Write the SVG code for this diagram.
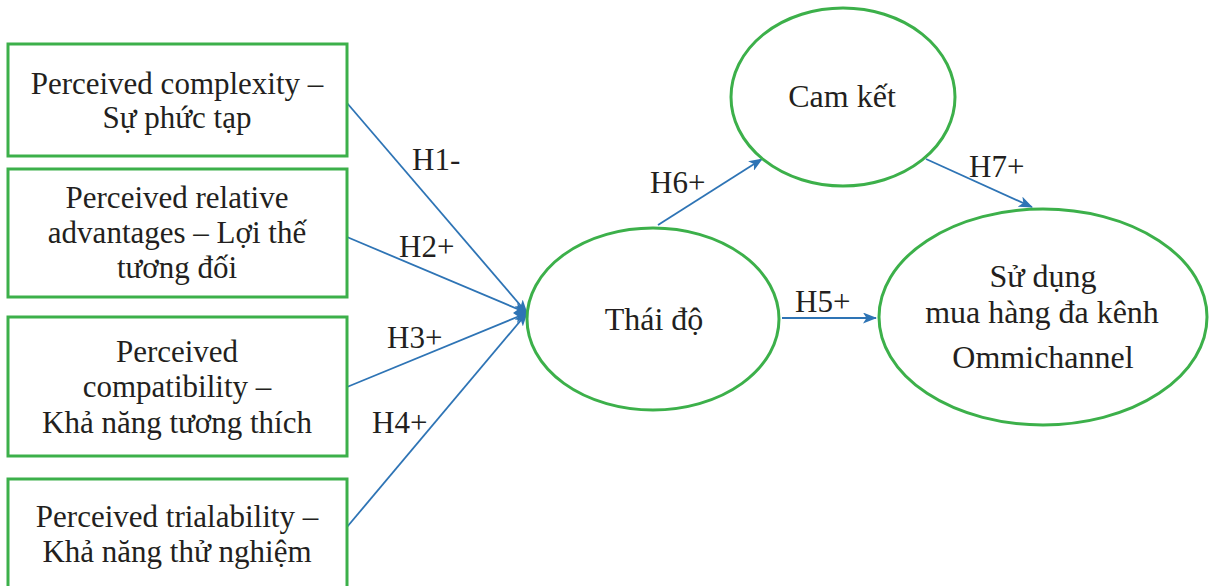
<svg xmlns="http://www.w3.org/2000/svg" width="1209" height="586" viewBox="0 0 1209 586">
<style>
.box{fill:#fff;stroke:#3cb04a;stroke-width:3}
.ell{fill:#fff;stroke:#3cb04a;stroke-width:3}
.t{font-family:"Liberation Serif","Times New Roman",serif;font-size:31px;fill:#231f20;text-anchor:middle}
.e{font-family:"Liberation Serif","Times New Roman",serif;font-size:32px;fill:#231f20;text-anchor:middle}
.lbl{font-family:"Liberation Serif","Times New Roman",serif;font-size:31px;fill:#231f20}
.c{stroke:#2e74b5;stroke-width:1.8;fill:none;marker-end:url(#ah)}
</style>
<defs>
<marker id="ah" viewBox="0 0 14 11" refX="13" refY="5.5" markerWidth="14" markerHeight="11" markerUnits="userSpaceOnUse" orient="auto">
<path d="M0,0 L14,5.5 L0,11 L3.5,5.5 Z" fill="#2e74b5"/>
</marker>
</defs>
<rect width="1209" height="586" fill="#fff"/>
<g id="connectors">
<line class="c" x1="347" y1="103" x2="527" y2="313"/>
<line class="c" x1="347" y1="237" x2="527" y2="313"/>
<line class="c" x1="347" y1="387" x2="527" y2="313"/>
<line class="c" x1="347" y1="527" x2="527" y2="313"/>
<line class="c" x1="658" y1="225" x2="762" y2="159"/>
<line class="c" x1="926" y1="159" x2="1032" y2="207"/>
<line class="c" x1="782" y1="318" x2="876" y2="318"/>
<text class="lbl" x="412" y="170">H1-</text>
<text class="lbl" x="399" y="257">H2+</text>
<text class="lbl" x="387" y="348">H3+</text>
<text class="lbl" x="372" y="433">H4+</text>
<text class="lbl" x="650" y="193">H6+</text>
<text class="lbl" x="969" y="177">H7+</text>
<text class="lbl" x="795" y="312">H5+</text>
</g>
<g id="n1">
<rect class="box" x="8" y="44" width="339" height="112"/>
<text class="t" x="177" y="94">Perceived complexity –</text>
<text class="t" x="177" y="128">Sự phức tạp</text>
</g>
<g id="n2">
<rect class="box" x="8" y="169" width="339" height="128"/>
<text class="t" x="177" y="208">Perceived relative</text>
<text class="t" x="177" y="243">advantages – Lợi thế</text>
<text class="t" x="177" y="278">tương đối</text>
</g>
<g id="n3">
<rect class="box" x="8" y="317" width="339" height="139"/>
<text class="t" x="177" y="362">Perceived</text>
<text class="t" x="177" y="397">compatibility –</text>
<text class="t" x="177" y="433">Khả năng tương thích</text>
</g>
<g id="n4">
<rect class="box" x="8" y="479" width="339" height="115"/>
<text class="t" x="177" y="527">Perceived trialability –</text>
<text class="t" x="177" y="562">Khả năng thử nghiệm</text>
</g>
<g id="n5">
<ellipse class="ell" cx="653" cy="319" rx="126" ry="91"/>
<text class="e" x="654" y="330">Thái độ</text>
</g>
<g id="n6">
<ellipse class="ell" cx="843" cy="97" rx="112" ry="89"/>
<text class="e" x="842" y="107">Cam kết</text>
</g>
<g id="n7">
<ellipse class="ell" cx="1043" cy="317" rx="164" ry="108"/>
<text class="e" x="1043" y="287">Sử dụng</text>
<text class="e" x="1042" y="323">mua hàng đa kênh</text>
<text class="e" x="1043" y="368">Ommichannel</text>
</g>
</svg>
